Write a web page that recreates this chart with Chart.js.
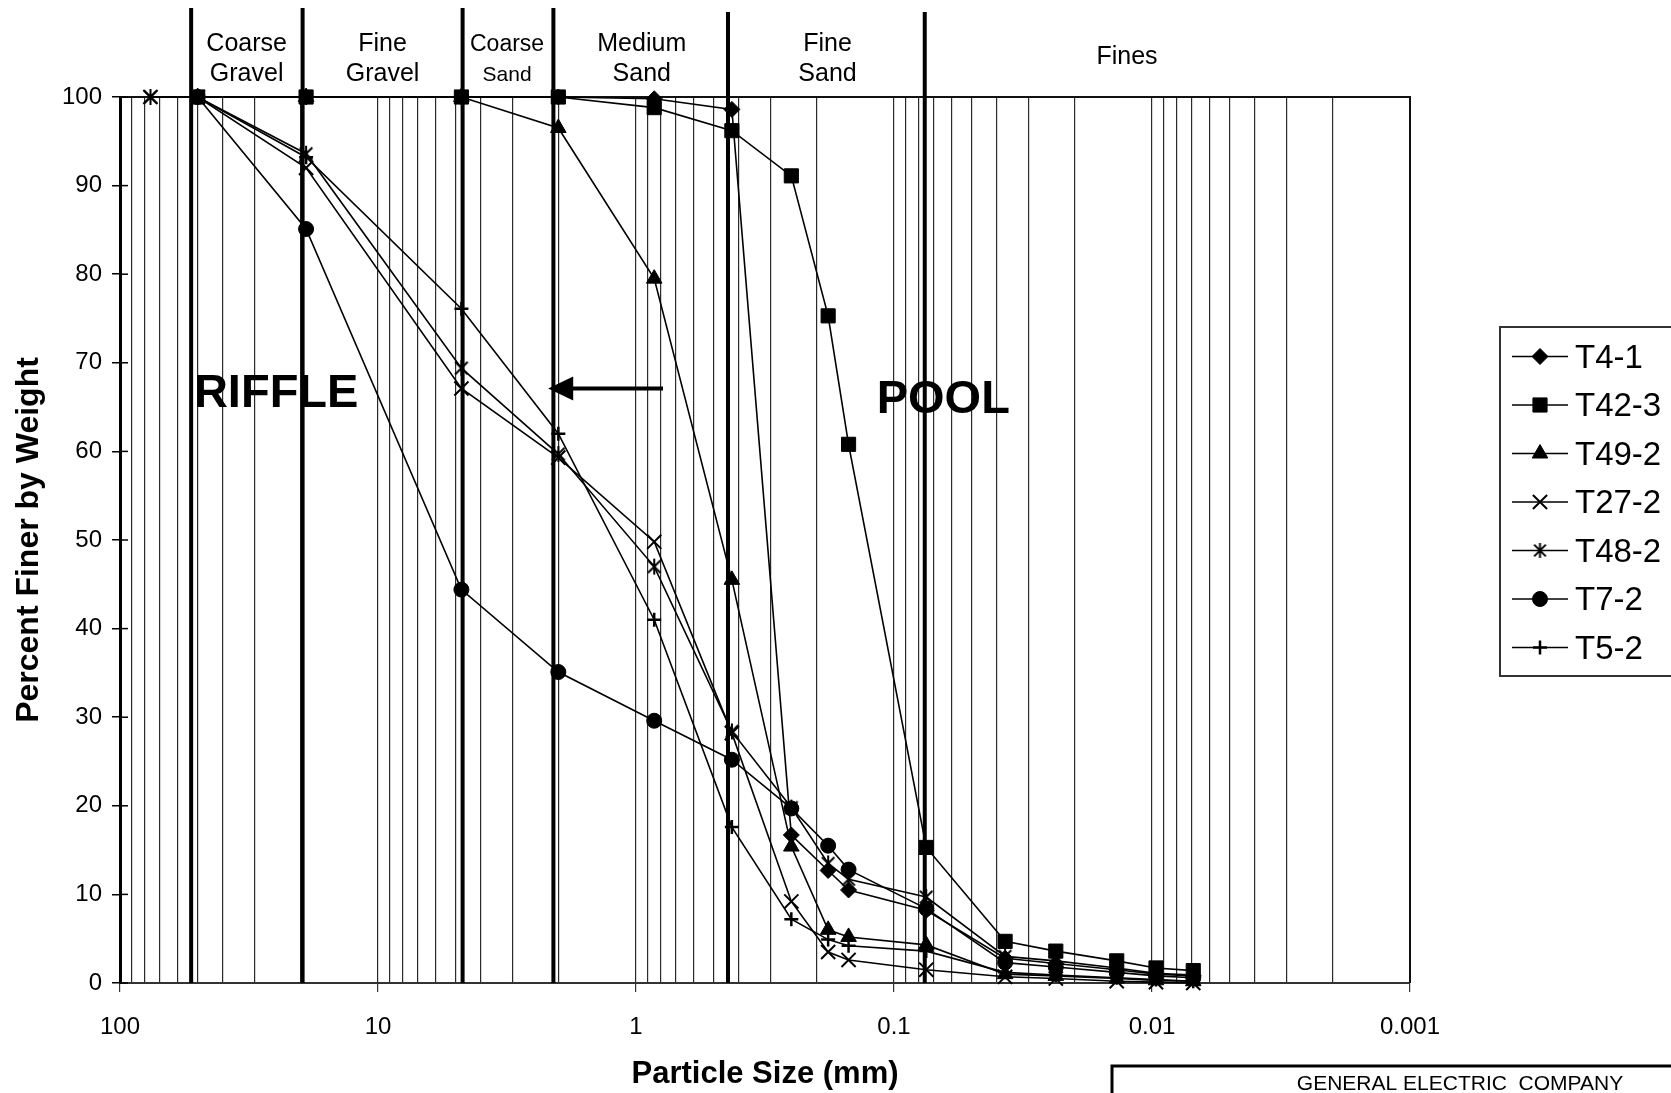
<!DOCTYPE html>
<html>
<head>
<meta charset="utf-8">
<script src="https://cdn.jsdelivr.net/npm/chart.js@4.4.1/dist/chart.umd.min.js"></script>
<style>
  html, body { margin: 0; padding: 0; background: #fff; }
  #wrap { width: 1671px; height: 1093px; position: relative; }
</style>
</head>
<body>
<div id="wrap"><canvas id="gradationChart"></canvas></div>
<script>
// gradation curves - sieve + hydrometer results

// particle size (mm) of each sieve / hydrometer reading
const particleSizes = [76.2, 50, 19, 4.75, 2, 0.85, 0.425, 0.25, 0.18, 0.15, 0.075, 0.0371, 0.0236, 0.0137, 0.00965, 0.00692];

const seriesLabels = ['T4-1', 'T42-3', 'T49-2', 'T27-2', 'T48-2', 'T7-2', 'T5-2'];

// percent finer by weight (null = not tested)
const t4_1  = [null, 100, 100, 100, 100, 99.8, 98.6, 16.7, 12.7, 10.5, 8.2, 2.8, 2.2, 1.5, 1.0, 0.8];
const t42_3 = [null, 100, 100, 100, 100, 98.8, 96.2, 91.1, 75.3, 60.8, 15.3, 4.7, 3.6, 2.5, 1.7, 1.4];
const t49_2 = [null, 100, 100, 100, 96.5, 79.5, 45.5, 15.4, 6.0, 5.2, 4.3, 1.0, 0.8, 0.5, 0.3, 0.2];
const t27_2 = [100, 100, 92.0, 67.1, 59.3, 49.8, 28.2, 9.2, 3.5, 2.6, 1.5, 0.7, 0.5, 0.2, 0.1, 0];
const t48_2 = [100, 100, 93.6, 69.4, 59.7, 47.0, 28.4, 19.8, 13.5, 11.7, 9.7, 3.0, 2.5, 1.7, 1.1, 0.9];
const t7_2  = [null, 100, 85.1, 44.4, 35.1, 29.6, 25.2, 19.7, 15.5, 12.8, 8.4, 2.3, 1.8, 1.2, 0.8, 0.6];
const t5_2  = [null, 100, 93.2, 76.1, 62.0, 41.0, 17.6, 7.2, 4.9, 4.2, 3.6, 1.2, 0.9, 0.6, 0.4, 0.2];

// x axis labels (decades only)
const xTickValues = [100, 10, 1, 0.1, 0.01, 0.001];
const xTickLabels = ['100', '10', '1', '0.1', '0.01', '0.001'];

// soil classification zones
const zoneBounds = [53, 19.6, 4.7, 2.09, 0.44, 0.076];
const zoneNames = [['Coarse', 'Gravel'], ['Fine', 'Gravel'], ['Coarse', 'Sand'], ['Medium', 'Sand'], ['Fine', 'Sand'], ['Fines']];
const zoneCenters = [32.3, 9.6, 3.16, 0.95, 0.181, 0.0125];

const FONT = "'Liberation Sans', Arial, sans-serif";
Chart.defaults.font.family = FONT;
Chart.defaults.color = '#000';

function toPoints(vals) {
  return particleSizes.map((s, i) => ({ x: s, y: vals[i] })).filter((p) => p.y !== null);
}

// Excel style asterisk marker (x with vertical bar)
function makeAsterisk(size, lw) {
  const c = document.createElement('canvas');
  c.width = size;
  c.height = size;
  const g = c.getContext('2d');
  const m = size / 2;
  const a = size / 2 - 1;
  const d = a * 0.78;
  g.strokeStyle = '#000';
  g.lineWidth = lw;
  g.beginPath();
  g.moveTo(m - d, m - d); g.lineTo(m + d, m + d);
  g.moveTo(m + d, m - d); g.lineTo(m - d, m + d);
  g.moveTo(m, m - a); g.lineTo(m, m + a);
  g.stroke();
  return c;
}
const asteriskBig = makeAsterisk(18, 2);
const asteriskSmall = makeAsterisk(17, 2);

// grid lines at 1..9 x each decade
function isDecade(v) {
  const l = Math.log10(v);
  return Math.abs(l - Math.round(l)) < 1e-9;
}
const gridValues = [];
[10, 1, 0.1, 0.01, 0.001].forEach((d) => {
  for (let k = 9; k >= 1; k--) gridValues.push(parseFloat((d * k).toPrecision(6)));
});
gridValues.unshift(100);

function mkSet(label, vals, style, radius, bw, legendStyle) {
  return {
    label: label,
    data: toPoints(vals),
    borderColor: '#000',
    borderWidth: 1.6,
    backgroundColor: '#000',
    pointStyle: style,
    pointRadius: radius,
    pointHoverRadius: radius,
    pointBackgroundColor: '#000',
    pointBorderColor: '#000',
    pointBorderWidth: bw,
    legendStyle: legendStyle || style,
    tension: 0,
    clip: false,
  };
}

const decorPlugin = {
  id: 'decor',
  beforeDatasetsDraw(chart) {
    const { ctx, chartArea: a, scales: { x, y } } = chart;
    ctx.save();
    // plot frame top / right
    ctx.strokeStyle = '#111';
    ctx.lineWidth = 2;
    ctx.beginPath();
    ctx.moveTo(a.left, a.top);
    ctx.lineTo(a.right, a.top);
    ctx.lineTo(a.right, a.bottom);
    ctx.stroke();
    // inner half of the y tick marks
    ctx.lineWidth = 1.5;
    ctx.strokeStyle = '#000';
    y.ticks.forEach((t) => {
      const py = y.getPixelForValue(t.value);
      ctx.beginPath();
      ctx.moveTo(a.left, py);
      ctx.lineTo(a.left + 8, py);
      ctx.stroke();
    });
    // zone boundaries
    ctx.lineWidth = 4;
    ctx.strokeStyle = '#000';
    zoneBounds.forEach((b, i) => {
      const px = x.getPixelForValue(b);
      ctx.beginPath();
      ctx.moveTo(px, i < 4 ? 8 : 12);
      ctx.lineTo(px, a.bottom);
      ctx.stroke();
    });
    ctx.restore();
  },
  afterDatasetsDraw(chart) {
    const { ctx, scales: { x, y } } = chart;
    ctx.save();
    ctx.fillStyle = '#000';
    ctx.textAlign = 'center';
    ctx.textBaseline = 'alphabetic';
    zoneNames.forEach((lines, i) => {
      const cx = x.getPixelForValue(zoneCenters[i]);
      if (lines.length === 1) {
        ctx.font = '25px ' + FONT;
        ctx.fillText(lines[0], cx, 64);
        return;
      }
      const small = lines[0] === 'Coarse' && lines[1] === 'Sand';
      ctx.font = (small ? '23px ' : '25px ') + FONT;
      ctx.fillText(lines[0], cx, 51);
      ctx.font = (small ? '21px ' : '25px ') + FONT;
      ctx.fillText(lines[1], cx, 81);
    });

    // RIFFLE / POOL and arrow
    ctx.font = 'bold 47px ' + FONT;
    ctx.textAlign = 'left';
    ctx.fillText('RIFFLE', x.getPixelForValue(51.7), y.getPixelForValue(65.0));
    ctx.fillText('POOL', x.getPixelForValue(0.1167), y.getPixelForValue(64.3));

    const ax0 = x.getPixelForValue(0.786);
    const ax1 = x.getPixelForValue(2.19);
    const ay = y.getPixelForValue(67.1);
    ctx.strokeStyle = '#000';
    ctx.lineWidth = 4;
    ctx.beginPath();
    ctx.moveTo(ax0, ay);
    ctx.lineTo(ax1 + 20, ay);
    ctx.stroke();
    ctx.beginPath();
    ctx.moveTo(ax1, ay);
    ctx.lineTo(ax1 + 25, ay - 12);
    ctx.lineTo(ax1 + 25, ay + 12);
    ctx.closePath();
    ctx.fill();

    // legend
    const lx = 1500, ly = 327;
    ctx.strokeStyle = '#333';
    ctx.lineWidth = 2;
    ctx.strokeRect(lx, ly, 210, 349);
    chart.data.datasets.forEach((ds, i) => {
      const yy = 356.5 + i * 48.5;
      ctx.strokeStyle = '#000';
      ctx.lineWidth = 1.5;
      ctx.beginPath();
      ctx.moveTo(1512, yy);
      ctx.lineTo(1568, yy);
      ctx.stroke();
      ctx.fillStyle = '#000';
      ctx.strokeStyle = '#000';
      ctx.lineWidth = ds.pointBorderWidth;
      Chart.helpers.drawPoint(ctx, {
        pointStyle: ds.legendStyle,
        radius: ds.pointRadius,
        borderWidth: ds.pointBorderWidth,
        rotation: 0,
      }, 1540, yy);
      ctx.fillStyle = '#000';
      ctx.font = '33px ' + FONT;
      ctx.textAlign = 'left';
      ctx.fillText(ds.label, 1575, yy + 11);
    });

    // title block
    ctx.strokeStyle = '#000';
    ctx.lineWidth = 3;
    ctx.beginPath();
    ctx.moveTo(1112, 1100);
    ctx.lineTo(1112, 1066);
    ctx.lineTo(1680, 1066);
    ctx.stroke();
    ctx.font = '21px ' + FONT;
    ctx.textAlign = 'center';
    ctx.fillText('GENERAL ELECTRIC  COMPANY', 1460, 1090);
    ctx.restore();
  },
};

const ctx = document.getElementById('gradationChart').getContext('2d');

new Chart(ctx, {
  type: 'line',
  data: {
    datasets: [
      mkSet(seriesLabels[0], t4_1, 'rectRot', 8, 1),
      mkSet(seriesLabels[1], t42_3, 'rect', 10, 1),
      mkSet(seriesLabels[2], t49_2, 'triangle', 9, 1),
      mkSet(seriesLabels[3], t27_2, 'crossRot', 10, 2),
      mkSet(seriesLabels[4], t48_2, asteriskBig, 9, 2, asteriskSmall),
      mkSet(seriesLabels[5], t7_2, 'circle', 7.5, 1),
      mkSet(seriesLabels[6], t5_2, 'cross', 7, 2.5),
    ],
  },
  options: {
    responsive: true,
    maintainAspectRatio: false,
    animation: false,
    layout: { padding: { top: 97, right: 261, left: 0, bottom: 0 } },
    plugins: {
      legend: { display: false },
      tooltip: { enabled: false },
    },
    scales: {
      x: {
        type: 'logarithmic',
        reverse: true,
        min: 0.001,
        max: 100,
        afterBuildTicks: (scale) => {
          scale.ticks = gridValues.map((v) => ({ value: v, major: isDecade(v) }));
        },
        afterFit: (scale) => { scale.height = 110; },
        grid: {
          color: '#2a2a2a',
          lineWidth: 1.2,
          tickLength: 9,
          tickColor: (c) => (c.tick && isDecade(c.tick.value) ? '#333' : 'rgba(0,0,0,0)'),
        },
        border: { color: '#333', width: 2 },
        ticks: {
          autoSkip: false,
          maxRotation: 0,
          padding: 21,
          color: '#000',
          font: { size: 24 },
          callback: (value) => {
            const i = xTickValues.findIndex((t) => Math.abs(t - value) < t * 1e-6);
            return i >= 0 ? xTickLabels[i] : '';
          },
        },
        title: {
          display: true,
          text: 'Particle Size (mm)',
          color: '#000',
          font: { size: 31, weight: 'bold' },
          padding: 0,
        },
      },
      y: {
        min: 0,
        max: 100,
        afterFit: (scale) => { scale.width = 120; },
        ticks: { stepSize: 10, padding: 10, color: '#000', font: { size: 24 } },
        grid: { drawOnChartArea: false, tickLength: 8, tickColor: '#000', lineWidth: 1.5 },
        border: { color: '#000', width: 3 },
        title: {
          display: true,
          text: 'Percent Finer by Weight',
          color: '#000',
          font: { size: 32, weight: 'bold' },
          padding: { top: 10, bottom: 0 },
        },
      },
    },
  },
  plugins: [decorPlugin],
});
</script>
</body>
</html>
